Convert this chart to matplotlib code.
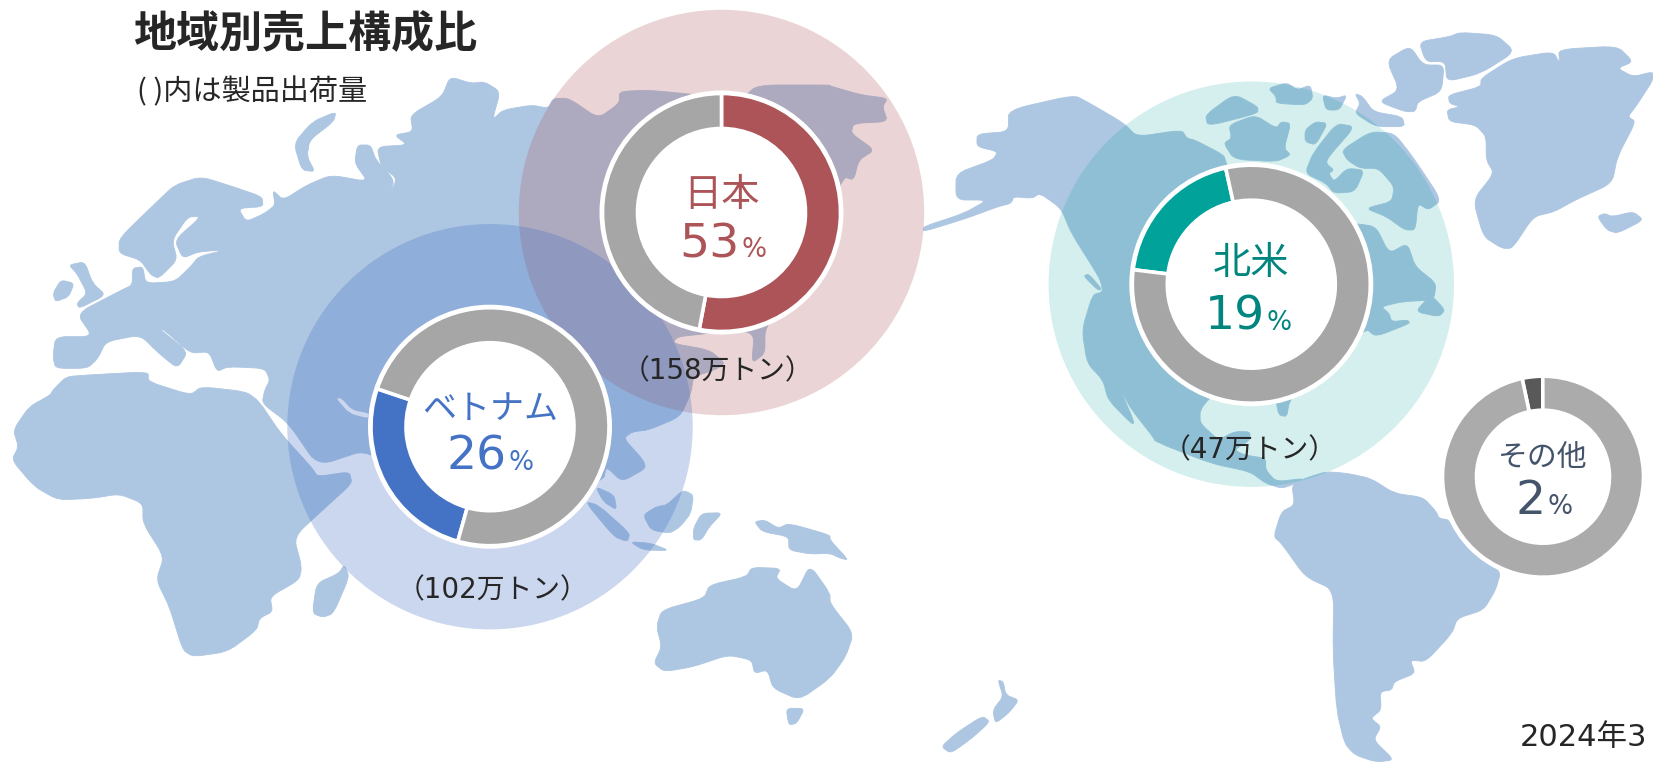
import matplotlib
matplotlib.use("Agg")
import matplotlib.pyplot as plt
from matplotlib.patches import Circle, PathPatch
from matplotlib.path import Path

plt.rcParams['font.family'] = ['Noto Sans CJK JP', 'DejaVu Sans']

W, H = 1653, 762
MAP = '#ADC6E2'
INK = '#262626'
GRAY = '#A6A6A6'
WIDE = ['DejaVu Sans', 'Noto Sans CJK JP']

title = '地域別売上構成比'
subtitle = '( )内は製品出荷量'
date_label = '2024年3'

regions = ['日本', 'ベトナム', '北米', 'その他']
region_pct = ['53', '26', '19', '2']
region_tons = ['（158万トン）', '（102万トン）', '（47万トン）', None]
seg_share = [[53, 47], [25.8, 74.2], [19.6, 80.4], [3.3, 96.7]]
seg_start = [90, 90 - 195.7, 90 - 277, 90 - 348]
seg_color = [['#AD5458', GRAY], ['#4472C4', GRAY], ['#00A29A', GRAY], ['#595959', '#ABABAB']]
text_color = ['#AD5458', '#4472C4', '#00857F', '#44546A']


def L(pts):  # traced outline, left half
    return [(x / 1.889, y / 3) for x, y in pts]


def R(pts):  # traced outline, right half
    return [(830 + x / 1.905, y / 3) for x, y in pts]


eurasia = L([(105,1105),(100,1070),(105,1010),(175,1010),(145,940),(230,870),(250,855),(250,805),(270,800),(275,850),(330,845),
 (360,800),(375,770),(425,750),(375,755),(345,775),(330,720),(380,650),(355,650),(325,720),(335,780),(300,835),(285,825),
 (265,780),(225,760),(225,715),(300,600),(330,555),(380,530),(440,560),(495,590),(497,620),(450,625),(465,665),(500,640),
 (520,615),(515,570),(535,600),(580,555),(625,525),(695,545),(670,490),(675,435),(700,435),(710,480),(745,540),(735,590),
 (750,535),(720,500),(712,440),(770,435),(745,405),(780,395),(775,345),(835,290),(850,230),(890,250),(915,245),(945,275),
 (930,360),(950,330),(1005,315),(1035,325),(1045,295),(1075,295),(1130,355),(1170,310),(1170,275),(1220,270),(1290,280),
 (1400,300),(1430,255),(1568,255)]) + R([(0,258),(60,285),(110,295),(100,320),(110,365),(45,370),(40,400),(85,450),(55,480),
 (45,540),(25,530)]) + L([(1500,850),(1445,985),(1445,1060),(1420,1090),(1425,1000),(1370,985),(1340,1000),(1280,1010),
 (1270,1030),(1340,1050),(1370,1090),(1350,1110),(1310,1130),(1305,1180),(1285,1250),(1225,1290),(1195,1295),(1178,1315),
 (1215,1380),(1220,1405),(1175,1445),(1145,1400),(1140,1440),(920,1620),(700,1345),(600,1398),(545,1270),(495,1210),
 (500,1170),(510,1140),(500,1105),(430,1100),(410,1115),(395,1055),(360,1060),(310,990),(300,985),(355,1055),(335,1105),
 (300,1060),(265,1005),(200,1025),(185,1075),(165,1105)])

africa = L([(100,1170),(95,1185),(55,1220),(25,1290),(35,1340),(22,1380),(65,1460),(110,1500),(175,1495),(225,1482),(270,1510),
 (270,1570),(310,1670),(295,1740),(320,1820),(345,1950),(365,1970),(430,1955),(485,1890),(490,1855),(515,1835),(510,1790),
 (565,1740),(570,1700),(555,1610),(620,1515),(665,1450),(660,1415),(600,1430),(590,1405),(530,1300),(490,1205),(465,1175),
 (380,1160),(360,1185),(280,1145),(280,1115),(165,1125),(125,1130)])
persian_gulf = L([(635,1195),(660,1240),(695,1255),(697,1240),(665,1230),(645,1195)])
madagascar = L([(650,1695),(660,1730),(630,1840),(610,1852),(590,1840),(598,1750),(640,1720)])
britain = L([(130,795),(160,785),(175,850),(200,885),(150,925),(145,910),(165,880),(145,820)])
ireland = L([(100,880),(115,840),(140,850),(130,890),(105,905)])
novaya_zemlya = L([(635,335),(630,365),(585,420),(580,470),(595,515),(570,510),(555,430),(590,365)])
sumatra = L([(1105,1505),(1130,1515),(1190,1600),(1185,1625),(1160,1610)])
java = L([(1190,1625),(1230,1630),(1265,1652),(1215,1650)])
malaya = L([(1125,1460),(1160,1485),(1165,1530),(1140,1505)])
borneo = L([(1290,1470),(1310,1485),(1305,1540),(1285,1580),(1265,1600),(1230,1590),(1215,1545),(1240,1520),(1260,1515)])
sulawesi = L([(1325,1540),(1365,1538),(1340,1580),(1325,1620),(1310,1620),(1310,1585)])
new_guinea = L([(1425,1565),(1445,1560),(1470,1585),(1490,1570),(1568,1605)]) + R([(0,1620),(35,1680),(20,1675),(0,1660)]) + \
 L([(1530,1662),(1490,1650),(1490,1610),(1440,1595)])
australia = L([(1240,1880),(1250,1830),(1330,1795),(1340,1755),(1410,1730),(1420,1702),(1475,1705),(1465,1735),(1505,1775),
 (1530,1695),(1568,1780)]) + R([(0,1810),(45,1900),(30,1970),(0,2035)]) + L([(1510,2100),(1460,2065),(1450,2010),(1425,2020),
 (1420,1980),(1375,1965),(1310,2000),(1255,2015),(1235,1990),(1250,1940)])
tasmania = L([(1485,2125),(1520,2125),(1505,2170),(1490,2175)])
nz_north = R([(320,2040),(330,2045),(335,2085),(360,2100),(340,2140),(315,2170),(310,2130),(330,2090)])
nz_south = R([(290,2148),(305,2165),(270,2215),(230,2260),(212,2240),(240,2200)])
north_america = R([(178,695),(178,680),(255,640),(300,600),(240,600),(240,520),(310,480),(320,455),(280,440),(280,402),(340,395),
 (340,330),(465,285),(495,310),(560,370),(585,410),(670,390),(680,415),(695,420),(750,465),(755,490),(760,510),(800,650),
 (950,700),(1000,670),(1040,680),(1065,760),(1100,730),(1115,800),(1155,850),(1150,900),(1090,905),(1050,920),(1065,940),
 (1070,965),(1100,960),(1105,970),(1040,1010),(1020,985),(900,1150),(875,1205),(870,1250),(855,1245),(850,1205),(850,1190),
 (800,1150),(725,1190),(705,1230),(705,1270),(740,1320),(770,1295),(800,1295),(800,1320),(770,1350),(790,1365),(830,1375),
 (830,1410),(850,1445),(905,1435),(880,1455),(860,1465),(830,1450),(800,1415),(725,1390),(620,1325),(615,1310),(575,1230),
 (552,1165),(580,1268),(575,1272),(530,1200),(520,1140),(490,1090),(480,990),(500,885),(520,875),(515,840),(500,800),(460,700),
 (440,625),(400,580),(385,595),(350,590),(345,610),(320,620),(260,655)])
vancouver = R([(483,828),(493,822),(518,868),(510,870)])
island_a = R([(715,345),(770,282),(815,320),(815,340),(720,378)])
island_b = R([(760,375),(810,345),(850,385),(860,365),(878,370),(865,445),(878,465),(850,485),(770,478),(750,430),(765,415)])
island_c = R([(835,265),(870,248),(890,270),(915,255),(920,295),(905,315),(850,310),(850,290)])
island_d = R([(938,285),(965,295),(985,285),(970,330),(945,330)])
island_e = R([(905,390),(925,365),(948,370),(925,435),(905,425)])
island_f = R([(965,370),(1000,380),(950,470),(945,490),(960,510),(950,520),(960,545),(985,505),(1018,510),(1000,575),(960,580),
 (945,550),(905,520),(920,460)])
island_g = R([(1000,280),(1015,290),(1035,335),(1090,350),(1095,380),(1040,380),(1000,340),(1010,310)])
baffin = R([(975,450),(1030,395),(1075,400),(1110,470),(1165,600),(1140,630),(1120,610),(1115,690),(1095,690),(1060,650),
 (1020,625),(1070,605),(1075,560),(1045,505),(1010,505),(985,480)])
ellesmere_w = R([(1045,305),(1085,270),(1060,180),(1105,138),(1130,195),(1170,195),(1165,275),(1120,305),(1115,335),(1095,335)])
ellesmere_e = R([(1122,125),(1180,110),(1200,97),(1270,105),(1305,155),(1240,220),(1175,245),(1172,185),(1135,185)])
newfoundland = R([(1145,885),(1172,930),(1160,950),(1115,935)])
greenland = R([(1178,285),(1240,260),(1240,235),(1300,175),(1378,155),(1390,190),(1388,148),(1500,138),(1530,185),(1500,205),
 (1530,230),(1568,215),(1568,240),(1535,320),(1520,350),(1535,365),(1500,470),(1490,550),(1420,600),(1380,635),(1340,650),
 (1300,745),(1280,745),(1245,710),(1225,600),(1265,520),(1250,480),(1250,410),(1230,375),(1180,365),(1175,330),(1200,320),(1180,310)])
iceland = R([(1462,650),(1475,640),(1490,650),(1530,635),(1550,660),(1500,700),(1480,690)])
south_america = R([(880,1455),(905,1435),(945,1415),(985,1420),(1030,1435),(1075,1480),(1130,1492),(1155,1535),(1160,1555),
 (1180,1560),(1240,1670),(1278,1715),(1268,1770),(1245,1830),(1195,1855),(1185,1900),(1135,1985),(1105,1980),(1115,2020),
 (1075,2045),(1070,2070),(1048,2075),(1050,2130),(1030,2155),(1050,2180),(1035,2220),(1075,2280),(1040,2286),(1000,2265),
 (980,2230),(965,2130),(958,1950),(960,1770),(905,1730),(860,1630),(845,1610),(860,1535),(885,1515)])

land = [eurasia, africa, madagascar, britain, ireland, novaya_zemlya, sumatra, java, malaya, borneo, sulawesi, new_guinea,
        australia, tasmania, nz_north, nz_south, north_america, vancouver, island_a, island_b, island_c, island_d, island_e,
        island_f, island_g, baffin, ellesmere_w, ellesmere_e, newfoundland, greenland, iceland, south_america]

fig = plt.figure(figsize=(W / 100, H / 100), dpi=100, facecolor='white')
ax = fig.add_axes([0, 0, 1, 1])


def fy(y):
    return H - y


def rounded(poly, t=0.3):
    """Closed outline whose corners are rounded with quadratic curves."""
    pts = [(x, fy(y)) for x, y in poly]
    n = len(pts)
    verts, codes = [], []
    for i in range(n):
        p0, p1, p2 = pts[i - 1], pts[i], pts[(i + 1) % n]
        a = (p1[0] + (p0[0] - p1[0]) * t, p1[1] + (p0[1] - p1[1]) * t)
        b = (p1[0] + (p2[0] - p1[0]) * t, p1[1] + (p2[1] - p1[1]) * t)
        verts += [a, p1, b]
        codes += [Path.MOVETO if i == 0 else Path.LINETO, Path.CURVE3, Path.CURVE3]
    verts.append(verts[0])
    codes.append(Path.CLOSEPOLY)
    return Path(verts, codes)


for poly in land:
    ax.add_patch(PathPatch(rounded(poly), fc=MAP, ec=MAP, lw=0.6, zorder=1))
ax.add_patch(PathPatch(rounded(persian_gulf), fc='white', ec='none', zorder=1.5))

halos = [((721.5, 212.5), '#AD5458', 0.25), ((490, 426.7), '#4472C4', 0.28), ((1251.3, 284.2), '#00A29A', 0.17)]
for i, (c, col, a) in enumerate(halos):
    ax.add_patch(Circle((c[0], fy(c[1])), 202.7, fc=col, ec='none', alpha=a, zorder=2 + i * 0.1))

centers = [(721.5, 212.5), (490, 426.7), (1251.3, 284.2), (1543, 476.7)]
outer = [119, 119, 119, 100.5]
inner = [84, 84, 84, 66.5]
for i, c in enumerate(centers):
    cy = fy(c[1])
    ax.add_patch(Circle((c[0], cy), outer[i] + 3, fc='white', ec='none', zorder=3))
    ax.pie(seg_share[i], colors=seg_color[i], startangle=seg_start[i], counterclock=False, center=(c[0], cy),
           radius=outer[i], wedgeprops=dict(width=outer[i] - inner[i], edgecolor='white', linewidth=2.6, zorder=4))

ax.set_xlim(0, W)
ax.set_ylim(0, H)
ax.set_aspect('equal')
ax.axis('off')


def put(x, y, s, size, color, ha='left', weight='normal', family=None):
    ax.text(x, fy(y), s, fontsize=size, color=color, ha=ha, va='baseline', fontweight=weight, zorder=6,
            family=family if family else ['Noto Sans CJK JP', 'DejaVu Sans'])


put(133, 47, title, 31, INK, weight='bold')
put(137, 100, subtitle, 21, INK)

label_xy = [(721.5, 206), (490, 419), (1251.5, 274), (1543, 466)]
label_size = [27.5, 24.5, 27.5, 21.5]
split_x = [739.5, 507, 1265, 1545.5]
pct_y = [257, 469.5, 330, 514]
tons_xy = [(717, 379), (493, 598), (1250, 458), None]
for i in range(4):
    col = text_color[i]
    put(label_xy[i][0], label_xy[i][1], regions[i], label_size[i], col, ha='center')
    put(split_x[i], pct_y[i], region_pct[i], 34, col, ha='right', family=WIDE)
    put(split_x[i] + 2, pct_y[i], '%', 19, col, family=WIDE)
    if region_tons[i]:
        put(tons_xy[i][0], tons_xy[i][1], region_tons[i], 20, INK, ha='center', family=WIDE)

put(1520, 746, date_label, 22, INK, family=WIDE)

fig.savefig('out.png', dpi=100, facecolor='white')
